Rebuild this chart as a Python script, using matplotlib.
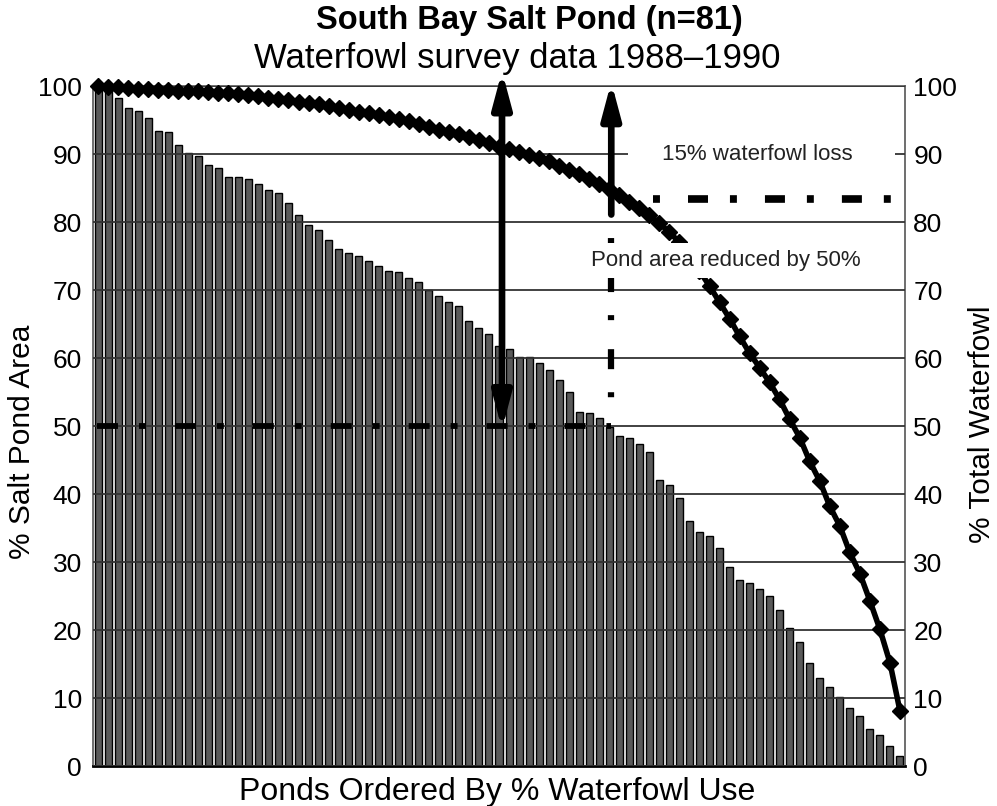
import matplotlib
matplotlib.use("Agg")
import matplotlib.pyplot as plt
from matplotlib.patches import Rectangle
import numpy as np

plt.rcParams['font.family'] = ['Liberation Sans', 'DejaVu Sans']
plt.rcParams['lines.scale_dashes'] = False

# % salt pond area remaining, ponds ordered by waterfowl use (n=81)
pond_area = [100.0, 99.8, 98.3, 96.7, 96.3, 95.3, 93.4, 93.2, 91.3, 90.1,
             89.7, 88.4, 88.0, 86.6, 86.6, 86.3, 85.6, 84.7, 84.2, 82.8,
             81.1, 79.6, 78.8, 77.4, 76.0, 75.5, 75.0, 74.2, 73.6, 72.8,
             72.6, 71.7, 71.2, 70.0, 69.1, 68.3, 67.7, 65.5, 64.4, 63.6,
             61.7, 61.3, 60.1, 60.1, 59.2, 58.2, 56.8, 55.0, 52.1, 51.9,
             51.2, 49.9, 48.6, 48.3, 47.4, 46.2, 42.1, 41.3, 39.4, 36.1,
             34.4, 33.8, 32.1, 29.2, 27.4, 26.9, 26.0, 25.0, 22.9, 20.3,
             18.2, 15.1, 13.0, 11.6, 10.2, 8.6, 7.4, 5.5, 4.6, 2.9,
             1.5]

# % of total waterfowl remaining
waterfowl = [100.0, 99.9, 99.8, 99.7, 99.6, 99.5, 99.4, 99.4, 99.3, 99.3,
             99.2, 99.1, 99.0, 98.9, 98.8, 98.7, 98.6, 98.3, 98.1, 97.9,
             97.7, 97.5, 97.3, 97.0, 96.7, 96.4, 96.2, 96.0, 95.7, 95.4,
             95.1, 94.8, 94.4, 94.0, 93.6, 93.3, 92.9, 92.5, 92.0, 91.6,
             91.1, 90.7, 90.3, 89.9, 89.4, 88.9, 88.3, 87.7, 87.0, 86.3,
             85.6, 84.8, 84.0, 83.0, 82.0, 81.0, 79.8, 78.5, 77.0, 75.0,
             72.8, 70.6, 68.2, 65.8, 63.2, 60.7, 58.6, 56.4, 53.9, 51.0,
             48.3, 44.8, 41.9, 38.2, 35.3, 31.4, 28.3, 24.3, 20.1, 15.2,
             8.1]

ponds = np.arange(1, len(pond_area) + 1)
yticks = list(range(0, 101, 10))

fig = plt.figure(figsize=(9.97, 8.06), dpi=100)
ax = fig.add_axes([0.0933, 0.0496, 0.8144, 0.8437])

ax.bar(ponds, pond_area, width=0.7, color='#5a5a5a', edgecolor='black',
       linewidth=1.0, zorder=1)

ax.set_xlim(0.5, len(ponds) + 0.5)
ax.set_ylim(0, 100)
ax.set_yticks(yticks)
ax.set_xticks([])
ax.yaxis.grid(True, color='#333333', linewidth=1.3)
ax.set_axisbelow(False)
ax.tick_params(axis='y', length=0, labelsize=19, pad=8)

for s in ['left', 'right', 'top']:
    ax.spines[s].set_color('#555555')
    ax.spines[s].set_linewidth(1.2)
ax.spines['bottom'].set_color('black')
ax.spines['bottom'].set_linewidth(2.0)

ax2 = ax.twinx()
ax2.set_ylim(0, 100)
ax2.set_yticks(yticks)
ax2.tick_params(axis='y', length=0, labelsize=19, pad=6)
for s in ax2.spines.values():
    s.set_visible(False)

# 50% area and 15% loss reference lines
x_half = 41.3
x_loss = 52.2
ax.plot([0.9, x_loss], [50, 50], color='black', lw=4.2,
        linestyle=(0, (15.1, 15.1, 5.0, 20.9)), dash_capstyle='butt',
        zorder=3)
ax.plot([x_loss, x_loss], [81.1, 50], color='black', lw=4.5,
        linestyle=(14.4, (14.4, 16.6, 3.6, 20.9)), dash_capstyle='butt',
        zorder=3)
ax.plot([56.4, 80.1], [83.4, 83.4], color='black', lw=5.5,
        linestyle=(0, (5.0, 20.2, 14.4, 15.8)), dash_capstyle='butt',
        zorder=3)

ax.plot(ponds, waterfowl, color='black', lw=4, marker='D', ms=8.5,
        zorder=4, clip_on=False)

# white label boxes
ax.add_patch(Rectangle((53.9, 87.6), 26.6, 5.0, facecolor='white',
                       edgecolor='none', zorder=5))
ax.text(66.8, 90.0, '15% waterfowl loss', ha='center', va='center',
        fontsize=16, color='#222222', zorder=6)
ax.add_patch(Rectangle((49.9, 71.8), 28.5, 5.1, facecolor='white',
                       edgecolor='none', zorder=5))
ax.text(63.6, 74.3, 'Pond area reduced by 50%', ha='center', va='center',
        fontsize=16, color='#222222', zorder=6)

ax.annotate('', xy=(x_half, 102.2), xytext=(x_half, 49.5),
            arrowprops=dict(arrowstyle='<|-|>,head_length=1.05,head_width=0.28',
                            lw=4.8, color='black', shrinkA=0, shrinkB=0,
                            mutation_scale=20),
            zorder=7, annotation_clip=False)
ax.annotate('', xy=(x_loss, 100.6), xytext=(x_loss, 81.1),
            arrowprops=dict(arrowstyle='-|>,head_length=1.05,head_width=0.28',
                            lw=4.8, color='black', shrinkA=0, shrinkB=0,
                            mutation_scale=20),
            zorder=7, annotation_clip=False)

fig.text(0.022, 0.452, '% Salt Pond Area', rotation=90, ha='center',
         va='center', fontsize=21.5)
fig.text(0.985, 0.474, '% Total Waterfowl', rotation=90, ha='center',
         va='center', fontsize=21.5)
fig.text(0.499, 0.017, 'Ponds Ordered By % Waterfowl Use', ha='center',
         va='center', fontsize=23)

fig.text(0.531, 0.975, 'South Bay Salt Pond (n=81)', ha='center', va='center',
         fontsize=23.5, fontweight='bold')
fig.text(0.519, 0.928, 'Waterfowl survey data 1988\u20131990', ha='center',
         va='center', fontsize=25)

fig.savefig('out.png', dpi=100)
